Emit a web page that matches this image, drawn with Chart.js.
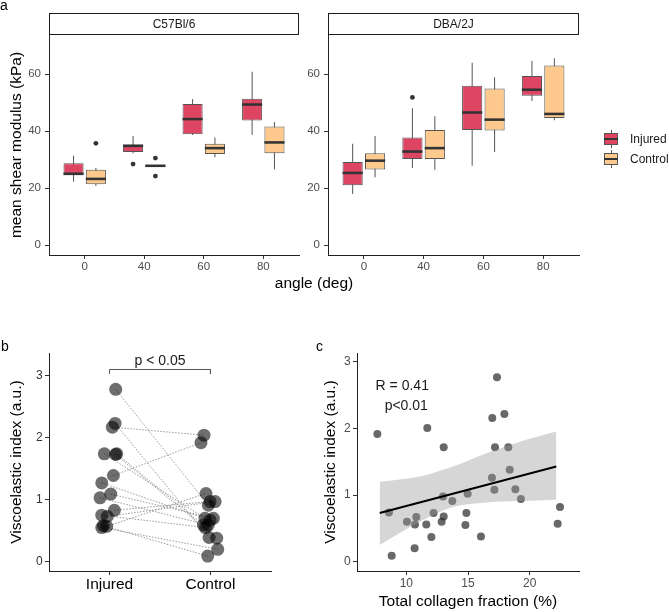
<!DOCTYPE html>
<html lang="en">
<head>
<meta charset="UTF-8" />
<title>Shear modulus and viscoelastic index</title>
<script src="https://cdn.jsdelivr.net/npm/chart.js"></script>
<style>
  body { margin: 0; background: #fff; font-family: 'Liberation Sans', Arial, sans-serif; }
  #fig { position: relative; width: 669px; height: 612px; overflow: hidden; background: #fff; }
  canvas { position: absolute; }
  .txt { position: absolute; white-space: nowrap; color: #000; }
  .letter { font-size: 14px; line-height: 14px; }
  .key { position: absolute; left: 604px; width: 14px; height: 18px; }
  .key .wh { position: absolute; left: 6.5px; top: 0; width: 1px; height: 18px; background: #555; }
  .key .bx { position: absolute; left: 0; top: 3px; width: 12px; height: 10px; border: 1px solid #555; }
  .key .md { position: absolute; left: 0; top: 8px; width: 14px; height: 2px; background: #333; }
  .key-label { position: absolute; left: 630px; font-size: 12px; line-height: 14px; color: #1a1a1a; }
</style>
</head>
<body>
<div id="fig">
  <canvas id="facetC57" width="305" height="275" style="left:0;top:0"></canvas>
  <canvas id="facetDBA" width="305" height="275" style="left:280px;top:0"></canvas>
  <canvas id="paired" width="280" height="270" style="left:0;top:330px"></canvas>
  <canvas id="corr" width="272" height="282" style="left:316px;top:330px"></canvas>

  <div class="txt letter" style="left:0;top:-2.5px">a</div>
  <div class="txt letter" style="left:1px;top:338.8px">b</div>
  <div class="txt letter" style="left:316px;top:338.8px">c</div>
  <div class="txt" style="left:264px;width:100px;text-align:center;top:274px;font-size:15.5px;line-height:18px">angle (deg)</div>

  <div class="key" style="top:130px"><span class="wh"></span><span class="bx" style="background:#dd4563"></span><span class="md"></span></div>
  <div class="key-label" style="top:132px">Injured</div>
  <div class="key" style="top:150px"><span class="wh"></span><span class="bx" style="background:#fec98c"></span><span class="md"></span></div>
  <div class="key-label" style="top:152px">Control</div>
</div>

<script>
  // ---- panel a: shear modulus boxes, [low whisker, q1, median, q3, high whisker]
  const angles = ['0', '40', '60', '80'];
  const modulusTicks = [0, 20, 40, 60];

  const c57Injured = [[22.2, 24.5, 25.0, 28.7, 31.3], [32.2, 32.6, 34.8, 35.3, 38.3], [38.6, 38.9, 44.2, 49.5, 51.2], [38.6, 43.7, 49.3, 51.3, 60.8]];
  const c57Control = [[20.7, 21.3, 23.2, 26.4, 27.0], [27.4, 27.4, 27.8, 28.1, 28.1], [30.8, 31.9, 34.0, 35.5, 37.7], [26.6, 32.2, 36.0, 41.6, 43.2]];
  const c57InjuredOut = [[], [28.4], [], []];
  const c57ControlOut = [[35.7], [30.5, 24.2], [], []];

  const dbaInjured = [[17.9, 21.0, 25.3, 29.1, 35.5], [27.0, 30.2, 32.8, 37.7, 48.0], [27.8, 40.4, 46.5, 55.9, 64.0], [50.5, 52.4, 54.5, 59.3, 64.7]];
  const dbaControl = [[23.8, 26.5, 29.6, 32.2, 38.3], [26.4, 30.2, 34.0, 40.4, 45.2], [32.6, 40.2, 44.0, 54.9, 58.9], [43.8, 44.6, 46.0, 63.0, 65.5]];
  const dbaInjuredOut = [[], [51.8], [], []];
  const dbaControlOut = [[], [], [], []];

  // ---- panel b: paired viscoelastic index (same index = same pair), x is the jittered position
  const groups = ['Injured', 'Control'];
  const injuredVI = [2.78, 2.23, 2.17, 1.74, 1.74, 1.73, 1.39, 1.27, 1.09, 1.03, 0.83, 0.75, 0.73, 0.58, 0.57, 0.55];
  const injuredX = [1.061, 1.055, 1.028, 0.948, 1.071, 1.059, 1.038, 0.923, 1.012, 0.906, 1.048, 0.923, 0.978, 0.939, 0.972, 0.923];
  const controlVI = [0.91, 0.39, 2.04, 0.70, 0.59, 0.38, 1.92, 0.67, 0.70, 0.59, 0.97, 0.55, 0.97, 0.09, 1.10, 0.20];
  const controlX = [1.979, 1.986, 1.936, 1.946, 1.930, 2.062, 1.906, 1.996, 2.029, 1.979, 1.996, 1.950, 2.046, 1.973, 1.956, 2.072];
  const viTicks = [0, 1, 2, 3];

  // ---- panel c: collagen fraction vs viscoelastic index
  const collagen = [7.65, 11.70, 13.03, 17.35, 16.97, 17.95, 17.19, 18.27, 8.59, 8.81, 10.05, 10.81, 10.70, 10.67, 11.62, 12.03,
                    12.21, 12.97, 13.03, 12.86, 13.73, 14.87, 14.97, 14.79, 16.05, 16.94, 17.14, 18.38, 18.84, 19.29, 22.27, 22.46];
  const viscoIdx = [1.92, 2.01, 1.72, 2.77, 2.16, 2.22, 1.72, 1.72, 0.74, 0.09, 0.60, 0.67, 0.56, 0.20, 0.56, 0.37,
                    0.73, 0.98, 0.68, 0.60, 0.91, 0.73, 1.02, 0.55, 0.38, 1.26, 1.08, 1.38, 1.09, 0.94, 0.57, 0.82];
  const fitX = [7.84, 22.16];
  const fitY = [0.73, 1.43];
  const bandX = [7.84, 11.08, 13.78, 16.49, 19.19, 22.16];
  const bandHi = [1.20, 1.28, 1.43, 1.63, 1.80, 1.955];
  const bandLo = [0.25, 0.60, 0.82, 0.89, 0.91, 0.93];
  const collagenTicks = [10, 15, 20];

  const INJ_COLOR = '#dd4563';
  const CTL_COLOR = '#fec98c';
  const FONT = "'Liberation Sans', Arial, sans-serif";
  const MED_HALF = 0.45;   // half thickness of the median bar, kPa
  const DODGE = 0.1875;

  Chart.defaults.font.family = FONT;
  Chart.defaults.animation = false;
  Chart.defaults.plugins.legend.display = false;
  Chart.defaults.plugins.tooltip.enabled = false;

  // facet strip above the plot area
  const stripPlugin = {
    id: 'strip',
    afterDraw(chart, args, opts) {
      const { ctx, chartArea } = chart;
      ctx.save();
      ctx.fillStyle = '#fff';
      ctx.strokeStyle = '#1a1a1a';
      ctx.lineWidth = 1;
      ctx.fillRect(chartArea.left, 13, chartArea.right - chartArea.left, 22);
      ctx.strokeRect(chartArea.left + 0.5, 13.5, chartArea.right - chartArea.left - 1, 21);
      ctx.fillStyle = '#1a1a1a';
      ctx.font = '12px ' + FONT;
      ctx.textAlign = 'center';
      ctx.textBaseline = 'middle';
      ctx.fillText(opts.text, (chartArea.left + chartArea.right) / 2, 24.5);
      ctx.restore();
    }
  };

  // free text placed in data units
  const notesPlugin = {
    id: 'notes',
    afterDraw(chart, args, opts) {
      const { ctx, scales } = chart;
      (opts.items || []).forEach(it => {
        ctx.save();
        ctx.font = '14px ' + FONT;
        ctx.fillStyle = '#1a1a1a';
        ctx.textAlign = it.align;
        ctx.textBaseline = 'middle';
        ctx.fillText(it.text, scales.x.getPixelForValue(it.x), scales.y.getPixelForValue(it.y));
        ctx.restore();
      });
    }
  };

  function boxDatasets(stats, outliers, color, stack, side) {
    const pts = [];
    outliers.forEach((vals, i) => vals.forEach(v => pts.push({ x: i + side * DODGE, y: v })));
    return [
      { data: stats.map((s, i) => ({ x: i, y: [s[2] - MED_HALF, s[2] + MED_HALF] })), backgroundColor: '#333333', stack, order: 0 },
      { data: stats.map((s, i) => ({ x: i, y: [s[1], s[3]] })), backgroundColor: color, borderColor: '#555555',
        borderWidth: 1, borderSkipped: false, stack, order: 1 },
      { data: stats.map((s, i) => ({ x: i, y: [s[0], s[4]] })), backgroundColor: '#555555', maxBarThickness: 1, stack, order: 2 },
      { type: 'scatter', data: pts, backgroundColor: '#333333', pointRadius: 2.4, borderWidth: 0, order: -1 }
    ];
  }

  function facetChart(id, strip, inj, injOut, ctl, ctlOut, yWidth, yTitle) {
    new Chart(document.getElementById(id), {
      type: 'bar',
      data: {
        datasets: [...boxDatasets(inj, injOut, INJ_COLOR, 'inj', -1), ...boxDatasets(ctl, ctlOut, CTL_COLOR, 'ctl', 1)]
      },
      options: {
        responsive: false,
        layout: { padding: { top: 35, right: 6, bottom: 0, left: 0 } },
        datasets: { bar: { categoryPercentage: 0.75, barPercentage: 0.9 } },
        scales: {
          x: {
            type: 'linear', min: -0.6, max: 3.6, offset: false,
            afterBuildTicks: s => { s.ticks = angles.map((a, i) => ({ value: i })); },
            afterFit: s => { s.height = 20; },
            border: { color: '#222', width: 1 },
            grid: { drawOnChartArea: false, offset: false, tickLength: 4, tickColor: '#333' },
            ticks: { callback: v => angles[v], color: '#4d4d4d', font: { size: 11.5 }, padding: 1, maxRotation: 0 }
          },
          y: {
            min: -3.5, max: 73.7, stacked: false,
            afterBuildTicks: s => { s.ticks = modulusTicks.map(v => ({ value: v })); },
            afterFit: s => { s.width = yWidth; },
            border: { color: '#222', width: 1 },
            grid: { drawOnChartArea: false, tickLength: 4, tickColor: '#333' },
            ticks: { color: '#4d4d4d', font: { size: 11.5 }, padding: 4 },
            title: { display: !!yTitle, text: yTitle, color: '#000', font: { size: 15.5 }, padding: { top: 7.4, bottom: 0 } }
          }
        },
        plugins: { strip: { text: strip } }
      },
      plugins: [stripPlugin]
    });
  }

  facetChart('facetC57', 'C57Bl/6', c57Injured, c57InjuredOut, c57Control, c57ControlOut, 49, 'mean shear modulus (kPa)');
  facetChart('facetDBA', 'DBA/2J', dbaInjured, dbaInjuredOut, dbaControl, dbaControlOut, 48, '');

  // ---- panel b
  const pairLines = injuredVI.map((v, i) => ({
    type: 'line',
    data: [{ x: injuredX[i], y: v }, { x: controlX[i], y: controlVI[i] }],
    borderColor: '#9a9a9a', borderWidth: 1, borderDash: [1.5, 1.5], pointRadius: 0, order: 3
  }));
  const bracketX = [1, 2];
  const bracketY = 3.1;
  const bracketDrop = 0.07;

  new Chart(document.getElementById('paired'), {
    type: 'scatter',
    data: {
      datasets: [
        ...pairLines,
        { data: injuredVI.map((v, i) => ({ x: injuredX[i], y: v })), backgroundColor: 'rgba(0,0,0,0.57)', borderWidth: 0, pointRadius: 6.5, order: 1 },
        { data: controlVI.map((v, i) => ({ x: controlX[i], y: v })), backgroundColor: 'rgba(0,0,0,0.57)', borderWidth: 0, pointRadius: 6.5, order: 1 },
        {
          type: 'line',
          data: [{ x: bracketX[0], y: bracketY - bracketDrop }, { x: bracketX[0], y: bracketY },
                 { x: bracketX[1], y: bracketY }, { x: bracketX[1], y: bracketY - bracketDrop }],
          borderColor: '#555', borderWidth: 1, pointRadius: 0, tension: 0, order: 0
        }
      ]
    },
    options: {
      responsive: false,
      layout: { padding: { top: 23, right: 9, bottom: 0, left: 0 } },
      scales: {
        x: {
          type: 'linear', min: 0.4, max: 2.6,
          afterBuildTicks: s => { s.ticks = groups.map((g, i) => ({ value: i + 1 })); },
          afterFit: s => { s.height = 29; },
          border: { color: '#222', width: 1 },
          grid: { drawOnChartArea: false, tickLength: 4, tickColor: '#333' },
          ticks: { callback: v => groups[v - 1], color: '#000', font: { size: 15.5 }, padding: 0, maxRotation: 0 }
        },
        y: {
          min: -0.15, max: 3.366,
          afterBuildTicks: s => { s.ticks = viTicks.map(v => ({ value: v })); },
          afterFit: s => { s.width = 49; },
          border: { color: '#222', width: 1 },
          grid: { drawOnChartArea: false, tickLength: 4, tickColor: '#333' },
          ticks: { color: '#333', font: { size: 12 }, padding: 2.3 },
          title: { display: true, text: 'Viscoelastic index (a.u.)', color: '#000', font: { size: 15.5 }, padding: { top: 7, bottom: 0 } }
        }
      },
      plugins: { notes: { items: [{ text: 'p < 0.05', x: 1.5, y: 3.24, align: 'center' }] } }
    },
    plugins: [notesPlugin]
  });

  // ---- panel c
  new Chart(document.getElementById('corr'), {
    type: 'scatter',
    data: {
      datasets: [
        { type: 'line', data: fitX.map((x, i) => ({ x, y: fitY[i] })), borderColor: '#000', borderWidth: 2, pointRadius: 0, order: 0 },
        { type: 'line', data: bandX.map((x, i) => ({ x, y: bandHi[i] })), borderWidth: 0, pointRadius: 0, fill: false,
          cubicInterpolationMode: 'monotone', order: 1 },
        { type: 'line', data: bandX.map((x, i) => ({ x, y: bandLo[i] })), borderWidth: 0, pointRadius: 0, fill: '-1',
          backgroundColor: 'rgba(153,153,153,0.4)', cubicInterpolationMode: 'monotone', order: 1 },
        { data: collagen.map((x, i) => ({ x, y: viscoIdx[i] })), backgroundColor: 'rgba(40,40,40,0.7)', borderWidth: 0, pointRadius: 4, order: 2 }
      ]
    },
    options: {
      responsive: false,
      layout: { padding: { top: 23, right: 9, bottom: 0, left: 0 } },
      scales: {
        x: {
          type: 'linear', min: 6, max: 24,
          afterBuildTicks: s => { s.ticks = collagenTicks.map(v => ({ value: v })); },
          afterFit: s => { s.height = 41; },
          border: { color: '#222', width: 1 },
          grid: { drawOnChartArea: false, tickLength: 4, tickColor: '#333' },
          ticks: { color: '#4d4d4d', font: { size: 12 }, padding: 1, maxRotation: 0 },
          title: { display: true, text: 'Total collagen fraction (%)', color: '#000', font: { size: 15.5 }, padding: { top: 0, bottom: 1 } }
        },
        y: {
          min: -0.14, max: 3.135,
          afterBuildTicks: s => { s.ticks = viTicks.map(v => ({ value: v })); },
          afterFit: s => { s.width = 41; },
          border: { color: '#222', width: 1 },
          grid: { drawOnChartArea: false, tickLength: 4, tickColor: '#333' },
          ticks: { color: '#4d4d4d', font: { size: 12 }, padding: 2.3 },
          title: { display: true, text: 'Viscoelastic index (a.u.)', color: '#000', font: { size: 15.5 }, padding: { top: 5.7, bottom: 0 } }
        }
      },
      plugins: { notes: { items: [{ text: 'R = 0.41', x: 7.51, y: 2.63, align: 'left' }, { text: 'p<0.01', x: 8.24, y: 2.33, align: 'left' }] } }
    },
    plugins: [notesPlugin]
  });
</script>
</body>
</html>
